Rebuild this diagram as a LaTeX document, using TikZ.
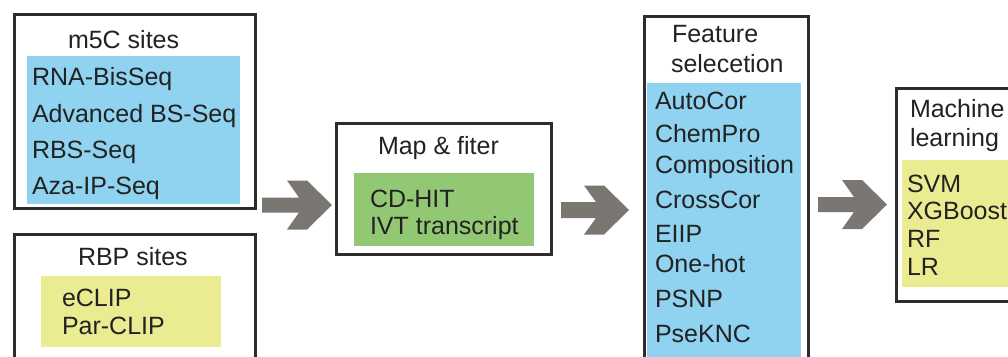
\documentclass[tikz,border=0pt]{standalone}
\usepackage{fontspec}
\setmainfont{Liberation Sans}
\definecolor{boxline}{HTML}{2E2C2C}
\definecolor{skyfill}{HTML}{8FD3F0}
\definecolor{greenfill}{HTML}{92C874}
\definecolor{yellowfill}{HTML}{EBEB92}
\definecolor{arrowgray}{HTML}{7A7672}
\definecolor{txt}{HTML}{222222}
\newcommand\chevarrow[5]{% start x, tip x, centre y, shaft half, head half
  \fill[arrowgray] (#1,#3-#4) -- (#2-33,#3-#4) -- (#2-45,#3-#5) -- (#2-25,#3-#5) -- (#2,#3)
    -- (#2-25,#3+#5) -- (#2-45,#3+#5) -- (#2-33,#3+#4) -- (#1,#3+#4) -- cycle;}
\begin{document}
\begin{tikzpicture}[x=1pt,y=-1pt,
  box/.style={draw=boxline, line width=2.8pt, fill=white, anchor=north west, inner sep=0pt, outer sep=0pt},
  panel/.style={anchor=north west, inner sep=0pt, outer sep=0pt},
  lbl/.style={anchor=base west, inner sep=0pt, outer sep=0pt, text=txt, font=\fontsize{25}{30}\selectfont}]
\useasboundingbox (0,0) rectangle (1008,356);
\clip (0,0) rectangle (1008,356);
\fill[white] (0,0) rectangle (1008,356);
% boxes
\node[box, minimum width=241pt, minimum height=194pt] (m5c) at (14.5,14.5) {};
\node[box, minimum width=241pt, minimum height=140pt] (rbp) at (14.5,234.5) {};
\node[box, minimum width=215pt, minimum height=131pt] (map) at (336.5,123.5) {};
\node[box, minimum width=164pt, minimum height=360pt] (feat) at (644.5,16.5) {};
\node[box, minimum width=130pt, minimum height=213pt] (ml) at (896.5,88.5) {};
% coloured panels
\node[panel, fill=skyfill, minimum width=213pt, minimum height=148pt] (m5cp) at (27,56) {};
\node[panel, fill=yellowfill, minimum width=180pt, minimum height=71pt] (rbpp) at (41,276) {};
\node[panel, fill=greenfill, minimum width=180pt, minimum height=73pt] (mapp) at (354,173) {};
\node[panel, fill=skyfill, minimum width=154pt, minimum height=290pt] (featp) at (647,83) {};
\node[panel, fill=yellowfill, minimum width=120pt, minimum height=127pt] (mlp) at (902,160) {};
% texts
\node[lbl] (t1) at (68,48) {m5C sites};
\node[lbl] (t1a) at (32,85) {RNA-BisSeq};
\node[lbl] (t1b) at (32,122) {Advanced BS-Seq};
\node[lbl] (t1c) at (32,158) {RBS-Seq};
\node[lbl] (t1d) at (32,194) {Aza-IP-Seq};
\node[lbl] (t2) at (78,265) {RBP sites};
\node[lbl] (t2a) at (62,306) {eCLIP};
\node[lbl] (t2b) at (62,334) {Par-CLIP};
\node[lbl] (t3) at (378,154) {Map \& fiter};
\node[lbl] (t3a) at (370,207) {CD-HIT};
\node[lbl] (t3b) at (370,234) {IVT transcript};
\node[lbl] (t4) at (672,42) {Feature};
\node[lbl] (t4x) at (671,72) {selecetion};
\node[lbl] (t4a) at (655,109) {AutoCor};
\node[lbl] (t4b) at (655,142) {ChemPro};
\node[lbl] (t4c) at (655,173) {Composition};
\node[lbl] (t4d) at (655,208) {CrossCor};
\node[lbl] (t4e) at (655,242) {EIIP};
\node[lbl] (t4f) at (655,272) {One-hot};
\node[lbl] (t4g) at (655,307) {PSNP};
\node[lbl] (t4h) at (655,342) {PseKNC};
\node[lbl] (t5) at (910,117) {Machine};
\node[lbl] (t5x) at (910,146) {learning};
\node[lbl] (t5a) at (907,192) {SVM};
\node[lbl] (t5b) at (907,219) {XGBoost};
\node[lbl] (t5c) at (907,247) {RF};
\node[lbl] (t5d) at (907,275) {LR};
% block arrows between stages
\chevarrow{262}{332}{205}{7.5}{24.5}
\chevarrow{561}{629}{210}{8}{24.5}
\chevarrow{818}{887}{204.5}{7.5}{24.5}
\end{tikzpicture}
\end{document}
